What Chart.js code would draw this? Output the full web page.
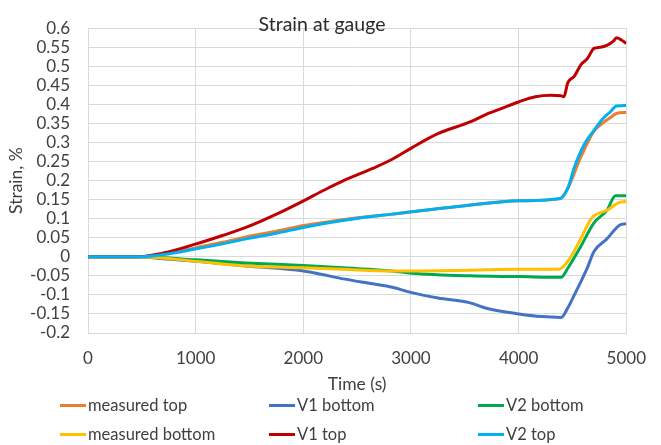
<!DOCTYPE html>
<html>
<head>
<meta charset="utf-8">
<script src="https://cdn.jsdelivr.net/npm/chart.js@4.4.0/dist/chart.umd.min.js"></script>
<style>
  html, body { margin: 0; padding: 0; background: #fff; }
  #wrap { position: relative; width: 661px; height: 445px; }
  #legend { position: absolute; left: 0; top: 0; width: 661px; height: 445px; pointer-events: none;
            font-family: Lato, sans-serif; font-size: 16.5px; color: #404040; }
  .item { position: absolute; display: flex; align-items: center; white-space: nowrap; }
  .swatch { width: 26px; height: 3px; margin-right: 2px; }
</style>
</head>
<body>
<div id="wrap">
  <canvas id="strainChart" width="661" height="445"></canvas>
  <div id="legend"></div>
</div>
<script>
// Strain at gauge - time series
const seriesNames = ["measured top", "V1 bottom", "V2 bottom", "measured bottom", "V1 top", "V2 top"];
const seriesColors = ["#ED7D31", "#4472C4", "#00A84F", "#FFC000", "#C00000", "#00B0F0"];

const timeMeasTop = [0, 470, 700, 1005, 1250, 1467, 1750, 2002, 2250, 2527, 2826, 3007, 3500, 4004, 4384, 4457, 4575, 4700, 4790, 4850, 4909, 5000];
const strainMeasTop = [0, 0, 0.007, 0.024, 0.038, 0.052, 0.067, 0.082, 0.093, 0.103, 0.112, 0.118, 0.134, 0.147, 0.152, 0.18, 0.26, 0.33, 0.353, 0.365, 0.376, 0.379];

const timeV1Bottom = [0, 470, 700, 1005, 1467, 2002, 2200, 2373, 2645, 2826, 3007, 3250, 3550, 3700, 4004, 4215, 4395, 4457, 4518, 4575, 4638, 4700, 4820, 4937, 5000];
const strainV1Bottom = [0, 0, -0.005, -0.012, -0.024, -0.037, -0.048, -0.058, -0.071, -0.08, -0.094, -0.108, -0.121, -0.135, -0.15, -0.157, -0.159, -0.134, -0.1, -0.067, -0.029, 0.014, 0.047, 0.083, 0.087];

const timeV2Bottom = [0, 470, 1005, 1467, 2002, 2373, 2826, 3007, 3550, 4004, 4395, 4457, 4575, 4700, 4820, 4900, 5000];
const strainV2Bottom = [0, 0, -0.008, -0.016, -0.023, -0.029, -0.037, -0.043, -0.05, -0.052, -0.054, -0.03, 0.026, 0.089, 0.122, 0.16, 0.16];

const timeMeasBottom = [0, 470, 1005, 1467, 2002, 2373, 2826, 3007, 3550, 4004, 4370, 4457, 4575, 4680, 4820, 4937, 5000];
const strainMeasBottom = [0, 0, -0.012, -0.024, -0.029, -0.033, -0.037, -0.037, -0.035, -0.033, -0.033, -0.012, 0.046, 0.102, 0.122, 0.143, 0.145];

const timeV1Top = [0, 450, 700, 1005, 1250, 1467, 1766, 2002, 2200, 2373, 2500, 2645, 2826, 3007, 3250, 3550, 3700, 3850, 4004, 4155, 4300, 4393, 4420, 4457, 4518, 4578, 4638, 4700, 4759, 4820, 4880, 4909, 4955, 5000];
const strainV1Top = [0, 0, 0.01, 0.034, 0.056, 0.077, 0.114, 0.147, 0.176, 0.2, 0.215, 0.232, 0.256, 0.286, 0.323, 0.354, 0.374, 0.39, 0.407, 0.42, 0.424, 0.423, 0.42, 0.457, 0.474, 0.504, 0.52, 0.547, 0.55, 0.555, 0.566, 0.575, 0.569, 0.56];

const timeV2Top = [0, 470, 700, 1005, 1250, 1467, 1750, 2002, 2250, 2527, 2826, 3007, 3500, 4004, 4384, 4457, 4518, 4608, 4700, 4790, 4850, 4909, 5000];
const strainV2Top = [0, 0, 0.006, 0.021, 0.034, 0.047, 0.062, 0.077, 0.09, 0.102, 0.112, 0.118, 0.134, 0.147, 0.153, 0.18, 0.235, 0.294, 0.332, 0.365, 0.38, 0.396, 0.397];

const xTicks = [0, 1000, 2000, 3000, 4000, 5000];

const seriesTimes = [timeMeasTop, timeV1Bottom, timeV2Bottom, timeMeasBottom, timeV1Top, timeV2Top];
const seriesStrains = [strainMeasTop, strainV1Bottom, strainV2Bottom, strainMeasBottom, strainV1Top, strainV2Top];

const fontFamily = "Lato, sans-serif";
const textColor = "#404040";
const gridColor = "#d9d9d9";

const datasets = seriesNames.map((name, i) => ({
  label: name,
  data: seriesTimes[i].map((t, j) => ({ x: t, y: seriesStrains[i][j] })),
  borderColor: seriesColors[i],
  backgroundColor: seriesColors[i],
  borderWidth: 3,
  pointRadius: 0,
  cubicInterpolationMode: "monotone",
  // later series drawn on top
  order: seriesNames.length - i,
}));

// titles drawn straight onto the canvas
const titlesPlugin = {
  id: "titles",
  afterDraw(chart) {
    const ctx = chart.ctx;
    const area = chart.chartArea;
    ctx.save();
    ctx.textAlign = "center";
    ctx.textBaseline = "middle";
    ctx.fillStyle = "#2b2b2b";
    ctx.font = "19.5px " + fontFamily;
    ctx.fillText("Strain at gauge", 322, 25);
    ctx.fillStyle = textColor;
    ctx.font = "17.5px " + fontFamily;
    ctx.fillText("Time (s)", (area.left + area.right) / 2, 384);
    ctx.translate(16, (area.top + area.bottom) / 2);
    ctx.rotate(-Math.PI / 2);
    ctx.fillText("Strain, %", 0, 0);
    ctx.restore();
  },
};

const config = {
  type: "line",
  data: { datasets: datasets },
  options: {
    responsive: false,
    animation: false,
    layout: { padding: { left: 0, right: 21, top: 15, bottom: 0 } },
    plugins: { legend: { display: false }, tooltip: { enabled: false } },
    scales: {
      x: {
        type: "linear",
        min: 0,
        max: 5000,
        afterBuildTicks: (scale) => { scale.ticks = xTicks.map((v) => ({ value: v })); },
        afterFit: (scale) => { scale.height = 112; },
        ticks: {
          color: textColor,
          font: { family: fontFamily, size: 17 },
          padding: 15,
          maxRotation: 0,
          autoSkip: false,
          callback: (v) => String(v),
        },
        grid: { color: gridColor, drawTicks: false },
        border: { color: gridColor },
      },
      y: {
        min: -0.2,
        max: 0.6,
        afterFit: (scale) => { scale.width = 88; },
        ticks: {
          stepSize: 0.05,
          autoSkip: false,
          color: textColor,
          font: { family: fontFamily, size: 17 },
          padding: 18,
          callback: (v) => String(Math.round(v * 100) / 100),
        },
        grid: { color: gridColor, drawTicks: false },
        border: { color: gridColor },
      },
    },
  },
  plugins: [titlesPlugin],
};

const strainChart = new Chart(document.getElementById("strainChart"), config);

// legend: 3 columns, 2 rows
const legendCols = [60, 269, 478];
const legendRows = [405, 434];
const legendBox = document.getElementById("legend");
strainChart.data.datasets.forEach((ds, i) => {
  const item = document.createElement("div");
  item.className = "item";
  item.style.left = legendCols[i % 3] + "px";
  item.style.top = (legendRows[Math.floor(i / 3)] - 11) + "px";
  item.style.height = "22px";
  const sw = document.createElement("span");
  sw.className = "swatch";
  sw.style.background = ds.borderColor;
  const tx = document.createElement("span");
  tx.textContent = ds.label;
  item.appendChild(sw);
  item.appendChild(tx);
  legendBox.appendChild(item);
});
</script>
</body>
</html>
